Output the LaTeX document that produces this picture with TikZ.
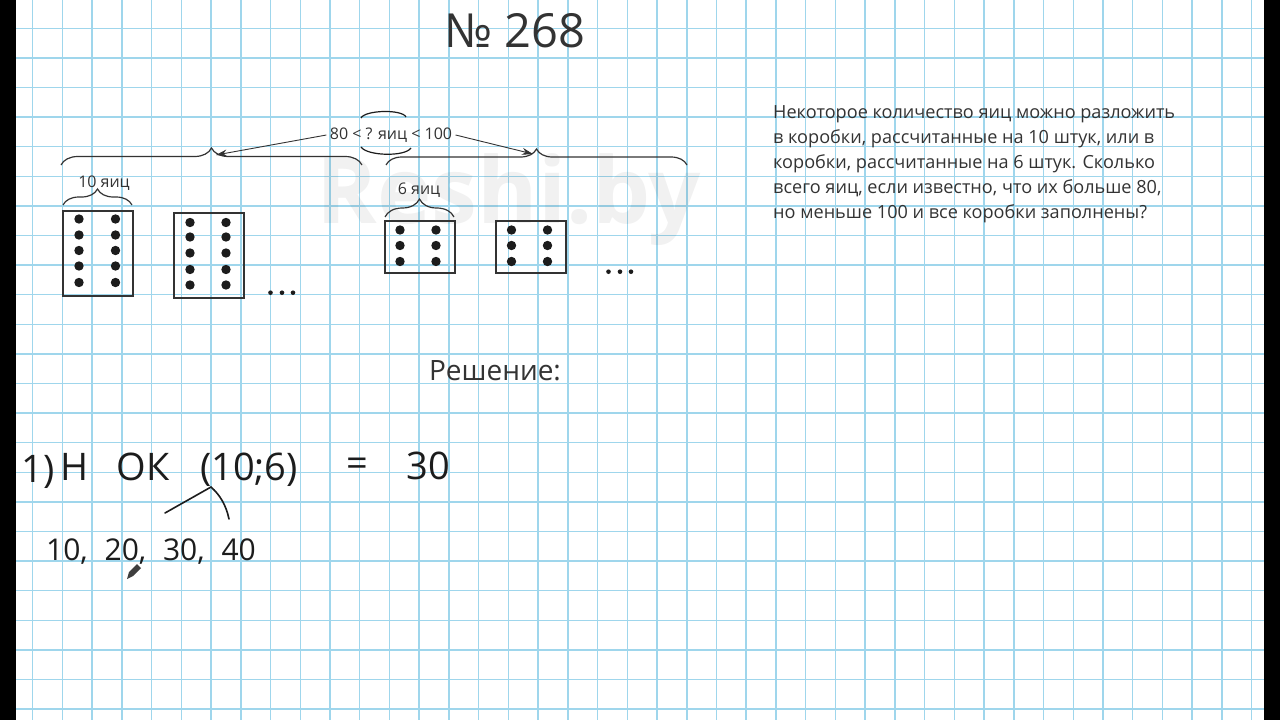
\documentclass[tikz,border=0pt]{standalone}
\usepackage{fontspec}
\setmainfont{Open Sans}
\usetikzlibrary{arrows.meta,decorations.pathreplacing}
\definecolor{grid}{HTML}{9FD6EC}
\definecolor{ink}{HTML}{333333}
\definecolor{pen}{HTML}{1C1C1C}
\tikzset{
 brc/.style={decorate,decoration={brace,amplitude=#1},line width=1.2pt,ink},
 eggbox/.style={line width=2pt,ink},
 label/.style={text=ink,font=\fontsize{16}{19}\selectfont},
 hand/.style={text=pen,font=\fontsize{38}{40}\selectfont,inner sep=0pt}
}
\begin{document}
\begin{tikzpicture}[x=1pt,y=-1pt,>={Stealth[length=11pt,width=7pt]}]
\useasboundingbox (0,0) rectangle (1280,720);
% paper with the dark edges of the frame
\fill[black] (0,0) rectangle (1280,720);
\fill[white] (16,0) rectangle (1264,720);
\foreach \i in {0,...,41} {\draw[grid,line width=1.5pt] ({32.7+29.73*\i},0) -- ({32.7+29.73*\i},720);}
\foreach \j in {0,...,23} {\draw[grid,line width=1.5pt] (16,{28.3+29.6*\j}) -- (1264,{28.3+29.6*\j});}
\node[font=\fontsize{92}{92}\selectfont\bfseries,text=black,text opacity=0.055] (wm) at (509,200) {Reshi.by};
\node[text=ink,font=\fontsize{47}{50}\selectfont] (title) at (515,31) {№ 268};
% boxes of ten
\node[label] (tenlbl) at (104,183) {10 яиц};
\draw[brc=16pt] (63,205) -- (132,205);
\draw[eggbox] (63,211) rectangle (133,296);
\draw[eggbox] (174,213) rectangle (244,298);
\foreach \y in {219,235,250.5,266,282.5} {\fill[pen] (79,\y) circle (4.7); \fill[pen] (115.5,\y) circle (4.7);}
\foreach \y in {222.5,237,253,269.5,285} {\fill[pen] (190,\y) circle (4.7); \fill[pen] (226,\y) circle (4.7);}
\foreach \x in {270.5,282,293} {\fill[pen] (\x,292.7) circle (2.3);}
% boxes of six
\node[label] (sixlbl) at (419,190) {6 яиц};
\draw[brc=18pt] (385,217) -- (454,217);
\draw[eggbox] (384.5,221) rectangle (455,272.5);
\draw[eggbox] (496,221) rectangle (566,272.5);
\foreach \y in {230,245.5,261.5} {
 \fill[pen] (400,\y) circle (4.7); \fill[pen] (436,\y) circle (4.7);
 \fill[pen] (511.5,\y) circle (4.7); \fill[pen] (547.5,\y) circle (4.7);}
\foreach \x in {608.5,620,631} {\fill[pen] (\x,271.7) circle (2.3);}
% the range and its two braces
\draw[brc=17pt] (61,165) -- (362,165);
\draw[brc=16pt] (386,165) -- (687,165);
\coordinate (tipL) at (216,155);
\coordinate (tipR) at (533,154);
\node[label] (range) at (391,135) {80 < ? яиц < 100};
\draw[->,line width=0.9pt,ink] (range.west) -- (tipL);
\draw[->,line width=0.9pt,ink] (range.east) -- (tipR);
\draw[line width=1.2pt,pen] (361,118) .. controls (365,110) and (402,109) .. (406,117);
\draw[line width=1.2pt,pen] (361,147) .. controls (367,156) and (405,157) .. (411,148);
% the task
\node[anchor=north west,align=left,inner sep=0pt,text=ink,font=\fontsize{18.1}{25}\selectfont] (task) at (773,105) {Некоторое количество яиц можно разложить\\в коробки, рассчитанные на 10 штук, или в\\коробки, рассчитанные на 6 штук. Сколько\\всего яиц, если известно, что их больше 80,\\но меньше 100 и все коробки заполнены?};
\node[text=ink,font=\fontsize{28}{31}\selectfont] (sol) at (495,371) {Решение:};
% handwritten solution
\node[hand] (h1) at (38,472) {1)};
\node[hand] (h2) at (75,467) {Н};
\node[hand] (h3) at (143,467) {ОК};
\node[hand] (h4) at (249,470) {(10;6)};
\node[hand] (h5) at (357,467) {=};
\node[hand] (h6) at (428,466) {30};
\draw[pen,line width=1.6pt,line cap=round] (165,513) -- (211,487) .. controls (220,495) and (226,505) .. (229,519);
\node[hand,font=\fontsize{30}{32}\selectfont] (h7) at (151,552) {10, \hspace{9pt}20, \hspace{9pt}30, \hspace{9pt}40};
\fill[pen!85] (127,579) -- (129,572) -- (137,564) -- (141,568) -- (133,576) -- cycle;
\end{tikzpicture}
\end{document}
